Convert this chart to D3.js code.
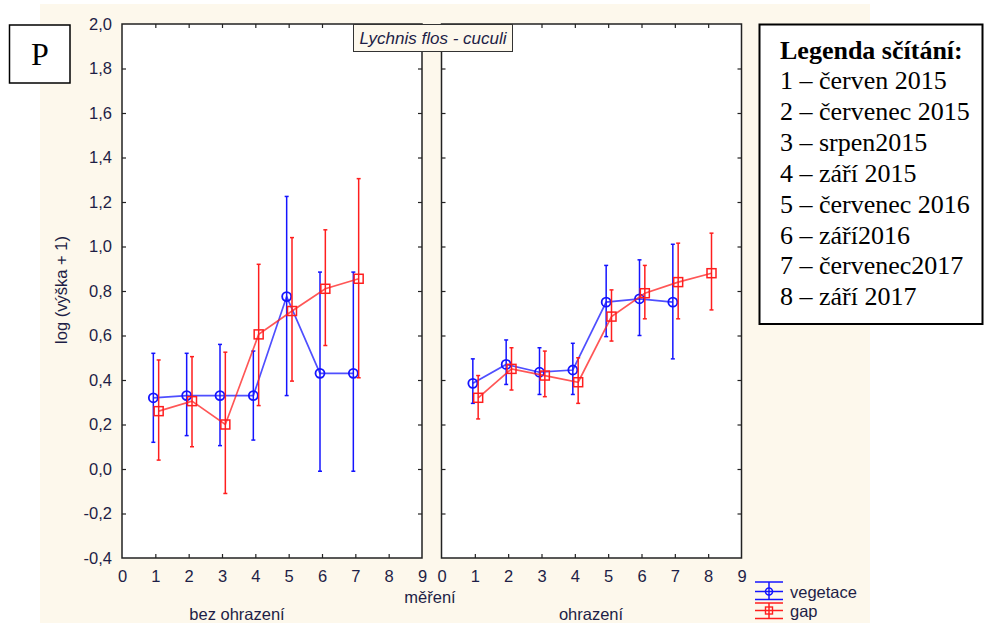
<!DOCTYPE html>
<html>
<head>
<meta charset="utf-8">
<script src="https://cdn.jsdelivr.net/npm/d3@7"></script>
<style>
  html, body { margin: 0; padding: 0; background: #ffffff; }
  svg { display: block; }
</style>
</head>
<body>
<svg id="chart" width="984" height="623"></svg>
<script>
// Measurement rounds (1..8) and panel definitions
const rounds = [1, 2, 3, 4, 5, 6, 7, 8];
const panelNames = ["bez ohrazení", "ohrazení"];
const seriesNames = ["vegetace", "gap"];
const xTicks = [0, 1, 2, 3, 4, 5, 6, 7, 8, 9];
const yTicks = [-0.4, -0.2, 0.0, 0.2, 0.4, 0.6, 0.8, 1.0, 1.2, 1.4, 1.6, 1.8, 2.0];

// bez ohrazení – vegetace
const vegBezMean = [0.32, 0.33, 0.33, 0.33, 0.775, 0.43, 0.43];
const vegBezHigh = [0.52, 0.52, 0.56, 0.53, 1.225, 0.885, 0.885];
const vegBezLow  = [0.12, 0.15, 0.105, 0.13, 0.33, -0.01, -0.01];
// bez ohrazení – gap
const gapBezMean = [0.26, 0.305, 0.20, 0.605, 0.71, 0.81, 0.855];
const gapBezHigh = [0.49, 0.505, 0.525, 0.92, 1.04, 1.075, 1.305];
const gapBezLow  = [0.04, 0.10, -0.11, 0.285, 0.395, 0.555, 0.41];
// ohrazení – vegetace
const vegOhrMean = [0.385, 0.47, 0.435, 0.445, 0.75, 0.765, 0.75];
const vegOhrHigh = [0.495, 0.58, 0.545, 0.565, 0.915, 0.94, 1.01];
const vegOhrLow  = [0.295, 0.38, 0.335, 0.335, 0.595, 0.60, 0.495];
// ohrazení – gap
const gapOhrMean = [0.32, 0.45, 0.42, 0.39, 0.685, 0.79, 0.84, 0.88];
const gapOhrHigh = [0.42, 0.545, 0.53, 0.50, 0.805, 0.915, 1.015, 1.06];
const gapOhrLow  = [0.225, 0.355, 0.325, 0.295, 0.575, 0.675, 0.675, 0.715];

const legendTitle = "Legenda sčítání:";
const legendLines = [
  "1 – červen 2015",
  "2 – červenec 2015",
  "3 – srpen2015",
  "4 – září 2015",
  "5 – červenec 2016",
  "6 – září2016",
  "7 – červenec2017",
  "8 – září 2017"
];

const BLUE = "#1414ff";
const RED = "#ff1e1e";
const CREAM = "#fdf8ec";
const TXT = "#1e1e46";
const AXIS = "#222222";
const sans = "Arial, 'Liberation Sans', sans-serif";
const serif = "'Liberation Serif', 'Times New Roman', serif";
const FS = "16.5px";

function build(mean, low, high) {
  return mean.map((m, i) => ({ x: rounds[i], m, lo: low[i], hi: high[i] }));
}

const panels = [
  { name: panelNames[0], x0: 122, x1: 422,
    series: [build(vegBezMean, vegBezLow, vegBezHigh), build(gapBezMean, gapBezLow, gapBezHigh)] },
  { name: panelNames[1], x0: 441.5, x1: 741.5,
    series: [build(vegOhrMean, vegOhrLow, vegOhrHigh), build(gapOhrMean, gapOhrLow, gapOhrHigh)] }
];

const svg = d3.select("#chart");
const plotTop = 24, plotBottom = 558;
const y = d3.scaleLinear().domain([-0.4, 2.0]).range([plotBottom, plotTop]);

// background
svg.append("rect").attr("x", 0).attr("y", 0).attr("width", 984).attr("height", 623).attr("fill", "#ffffff");
svg.append("rect").attr("x", 40).attr("y", 4).attr("width", 830).attr("height", 619).attr("fill", CREAM);

const seriesColors = [BLUE, RED];
const seriesShift = [-0.06, 0.1];
const yFmt = d => d3.format(".1f")(d).replace(".", ",").replace("−", "-");

panels.forEach((p, pi) => {
  const x = d3.scaleLinear().domain([0, 9]).range([p.x0, p.x1]);
  const g = svg.append("g");
  g.append("rect")
    .attr("x", p.x0).attr("y", plotTop)
    .attr("width", p.x1 - p.x0).attr("height", plotBottom - plotTop)
    .attr("fill", "#ffffff");

  // inward ticks on all four sides
  const tl = 4;
  const mk = (axis) => axis.tickSizeInner(-tl).tickSizeOuter(0);
  const axB = g.append("g").attr("transform", `translate(0,${plotBottom})`)
    .call(mk(d3.axisBottom(x).tickValues(xTicks)).tickFormat(d3.format("d")).tickPadding(12));
  const axT = g.append("g").attr("transform", `translate(0,${plotTop})`)
    .call(mk(d3.axisTop(x).tickValues(xTicks)).tickFormat(""));
  const axL = g.append("g").attr("transform", `translate(${p.x0},0)`)
    .call(mk(d3.axisLeft(y).tickValues(yTicks)).tickFormat(pi === 0 ? yFmt : "").tickPadding(10));
  const axR = g.append("g").attr("transform", `translate(${p.x1},0)`)
    .call(mk(d3.axisRight(y).tickValues(yTicks)).tickFormat(""));
  [axB, axT, axL, axR].forEach(a => {
    a.select(".domain").remove();
    a.selectAll(".tick line").attr("stroke", AXIS).attr("stroke-width", 1.2);
    a.selectAll("text").attr("fill", TXT).style("font-family", sans).style("font-size", FS);
  });
  // end ticks coincide with the frame
  axB.selectAll(".tick line").filter(d => d === 0 || d === 9).remove();
  axT.selectAll(".tick line").filter(d => d === 0 || d === 9).remove();
  [axL, axR].forEach(a => a.selectAll(".tick line").filter(d => d === -0.4 || d === 2.0).remove());

  // frame
  g.append("rect")
    .attr("x", p.x0).attr("y", plotTop)
    .attr("width", p.x1 - p.x0).attr("height", plotBottom - plotTop)
    .attr("fill", "none").attr("stroke", AXIS).attr("stroke-width", 1.5);

  // series: error bars, connecting line, markers
  p.series.forEach((data, si) => {
    const col = seriesColors[si];
    const sx = d => x(d.x + seriesShift[si]);
    const sg = g.append("g");
    sg.append("path")
      .datum(data)
      .attr("d", d3.line().x(sx).y(d => y(d.m)))
      .attr("fill", "none").attr("stroke", col).attr("stroke-width", 1.7).attr("stroke-opacity", 0.75);
    const eb = sg.selectAll(".eb").data(data).enter().append("g");
    eb.append("line").attr("x1", sx).attr("x2", sx).attr("y1", d => y(d.lo)).attr("y2", d => y(d.hi))
      .attr("stroke", col).attr("stroke-width", 1.5);
    eb.append("line").attr("x1", d => sx(d) - 2).attr("x2", d => sx(d) + 2).attr("y1", d => y(d.hi)).attr("y2", d => y(d.hi))
      .attr("stroke", col).attr("stroke-width", 1.5);
    eb.append("line").attr("x1", d => sx(d) - 2).attr("x2", d => sx(d) + 2).attr("y1", d => y(d.lo)).attr("y2", d => y(d.lo))
      .attr("stroke", col).attr("stroke-width", 1.5);
    if (si === 0) {
      sg.selectAll(".mk").data(data).enter().append("circle")
        .attr("cx", sx).attr("cy", d => y(d.m)).attr("r", 4.5)
        .attr("fill", "none").attr("stroke", col).attr("stroke-width", 1.8);
    } else {
      sg.selectAll(".mk").data(data).enter().append("rect")
        .attr("x", d => sx(d) - 4.5).attr("y", d => y(d.m) - 4.5).attr("width", 9).attr("height", 9)
        .attr("fill", "none").attr("stroke", col).attr("stroke-width", 1.5);
    }
  });
});

// axis titles
svg.append("text").attr("transform", "translate(67,290) rotate(-90)")
  .attr("text-anchor", "middle").attr("fill", TXT).style("font-family", sans).style("font-size", FS)
  .text("log (výška + 1)");
svg.append("text").attr("x", 430).attr("y", 603).attr("text-anchor", "middle")
  .attr("fill", TXT).style("font-family", sans).style("font-size", FS).text("měření");
svg.append("text").attr("x", 237).attr("y", 620).attr("text-anchor", "middle")
  .attr("fill", TXT).style("font-family", sans).style("font-size", FS).text(panelNames[0]);
svg.append("text").attr("x", 591).attr("y", 620).attr("text-anchor", "middle")
  .attr("fill", TXT).style("font-family", sans).style("font-size", FS).text(panelNames[1]);

// species title box
svg.append("rect").attr("x", 353.5).attr("y", 24.5).attr("width", 159).attr("height", 27)
  .attr("fill", CREAM).attr("stroke", "#333333").attr("stroke-width", 1);
svg.append("text").attr("x", 433).attr("y", 44).attr("text-anchor", "middle")
  .attr("fill", TXT).style("font-family", sans).style("font-size", "17px").style("font-style", "italic")
  .text("Lychnis flos - cuculi");

// series legend
const lg = svg.append("g");
[[582, 599.5, 591.5], [603, 618.5, 610.5]].forEach((r, i) => {
  const col = seriesColors[i];
  [r[0], r[2], r[1]].forEach(yy => lg.append("line").attr("x1", 755).attr("x2", 783).attr("y1", yy).attr("y2", yy)
    .attr("stroke", col).attr("stroke-width", 1.5));
  lg.append("line").attr("x1", 769).attr("x2", 769).attr("y1", r[0]).attr("y2", r[1]).attr("stroke", col).attr("stroke-width", 1.5);
  if (i === 0) {
    lg.append("circle").attr("cx", 769).attr("cy", r[2]).attr("r", 3.5).attr("fill", "none").attr("stroke", col).attr("stroke-width", 1.6);
  } else {
    lg.append("rect").attr("x", 765.5).attr("y", r[2] - 3.5).attr("width", 7).attr("height", 7).attr("fill", "none").attr("stroke", col).attr("stroke-width", 1.4);
  }
  lg.append("text").attr("x", 790).attr("y", r[2] + 6).attr("fill", TXT)
    .style("font-family", sans).style("font-size", FS).text(seriesNames[i]);
});

// panel letter box
svg.append("rect").attr("x", 9.5).attr("y", 25).attr("width", 60.5).attr("height", 58)
  .attr("fill", "#ffffff").attr("stroke", "#000000").attr("stroke-width", 1.5);
svg.append("text").attr("x", 40).attr("y", 65).attr("text-anchor", "middle")
  .style("font-family", serif).style("font-size", "32px").attr("fill", "#000")
  .text("P");

// measurement legend box
svg.append("rect").attr("x", 759.5).attr("y", 24.5).attr("width", 223).attr("height", 299.5)
  .attr("fill", "#ffffff").attr("stroke", "#000000").attr("stroke-width", 2);
svg.append("text").attr("x", 780).attr("y", 59).attr("fill", "#000")
  .style("font-family", serif).style("font-size", "26px").style("font-weight", "bold").text(legendTitle);
svg.selectAll(".lgl").data(legendLines).enter().append("text")
  .attr("x", 780).attr("y", (d, i) => 89 + i * 30.9).attr("fill", "#000")
  .style("font-family", serif).style("font-size", "26px").text(d => d);
</script>
</body>
</html>
